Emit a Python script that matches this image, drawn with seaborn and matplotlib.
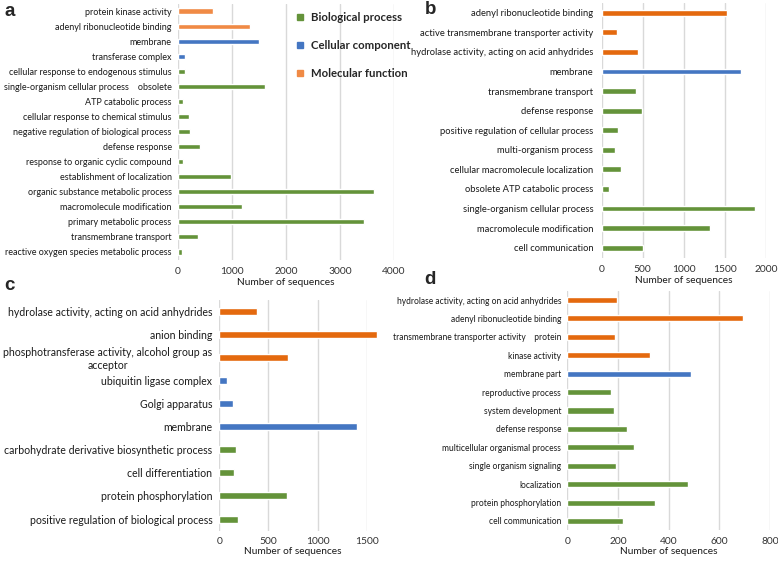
import pandas as pd
import matplotlib
matplotlib.use("Agg")
import matplotlib.pyplot as plt
from matplotlib.lines import Line2D
import seaborn as sns

# ---- data ----
a_terms = ["protein kinase activity", "adenyl ribonucleotide binding", "membrane",
           "transferase complex", "cellular response to endogenous stimulus",
           "single-organism cellular process    obsolete", "ATP catabolic process",
           "cellular response to chemical stimulus",
           "negative regulation of biological process", "defense response",
           "response to organic cyclic compound", "establishment of localization",
           "organic substance metabolic process", "macromolecule modification",
           "primary metabolic process", "transmembrane transport",
           "reactive oxygen species metabolic process"]
a_values = [640, 1330, 1500, 130, 130, 1610, 90, 200, 230, 410, 100, 990,
            3630, 1185, 3440, 365, 75]
a_groups = ["MF", "MF", "CC", "CC", "BP", "BP", "BP", "BP", "BP", "BP", "BP",
            "BP", "BP", "BP", "BP", "BP", "BP"]

b_terms = ["adenyl ribonucleotide binding", "active transmembrane transporter activity",
           "hydrolase activity, acting on acid anhydrides", "membrane",
           "transmembrane transport", "defense response",
           "positive regulation of cellular process", "multi-organism process",
           "cellular macromolecule localization", "obsolete ATP catabolic process",
           "single-organism cellular process", "macromolecule modification",
           "cell communication"]
b_values = [1530, 185, 440, 1695, 425, 495, 195, 165, 235, 95, 1865, 1320, 510]
b_groups = ["MF", "MF", "MF", "CC", "BP", "BP", "BP", "BP", "BP", "BP", "BP",
            "BP", "BP"]

c_terms = ["hydrolase activity, acting on acid anhydrides", "anion binding",
           "phosphotransferase activity, alcohol group as\nacceptor",
           "ubiquitin ligase complex", "Golgi apparatus", "membrane",
           "carbohydrate derivative biosynthetic process", "cell differentiation",
           "protein phosphorylation", "positive regulation of biological process"]
c_values = [380, 1605, 700, 75, 140, 1400, 175, 150, 685, 195]
c_groups = ["MF", "MF", "MF", "CC", "CC", "CC", "BP", "BP", "BP", "BP"]

d_terms = ["hydrolase activity, acting on acid anhydrides",
           "adenyl ribonucleotide binding",
           "transmembrane transporter activity    protein", "kinase activity",
           "membrane part", "reproductive process", "system development",
           "defense response", "multicellular organismal process",
           "single organism signaling", "localization", "protein phosphorylation",
           "cell communication"]
d_values = [197, 695, 188, 326, 487, 171, 183, 234, 263, 191, 476, 347, 218]
d_groups = ["MF", "MF", "MF", "MF", "CC", "BP", "BP", "BP", "BP", "BP", "BP",
            "BP", "BP"]

group_names = {"BP": "Biological process", "CC": "Cellular component",
               "MF": "Molecular function"}

green = "#64933a"
blue = "#4476c2"
orange_a = "#f08a45"
orange = "#e4690e"

sns.set_style("white")
plt.rcParams["font.family"] = ["Lato", "DejaVu Sans"]

W, H = 778, 561
fig = plt.figure(figsize=(W / 100, H / 100), dpi=100)


def px_axes(l, t, r, b):
    return fig.add_axes([l / W, 1 - b / H, (r - l) / W, (b - t) / H])


def panel(ax, terms, values, groups, xmax, step, pal, lab_size, tick_pad,
          ypad, xlab_pad, width):
    df = pd.DataFrame({"term": terms, "value": values, "group": groups})
    sns.barplot(data=df, x="value", y="term", hue="group", palette=pal,
                dodge=False, width=width, legend=False, ax=ax, saturation=1,
                order=terms)
    ax.set_xlim(0, xmax)
    ax.set_xticks(range(0, xmax + 1, step))
    for p in ax.patches:
        p.set_clip_on(False)
    ax.grid(axis="x", color="#d9d9d9", linewidth=1)
    ax.set_axisbelow(True)
    sns.despine(ax=ax, left=True, bottom=True)
    ax.tick_params(axis="both", length=0)
    ax.tick_params(axis="y", labelsize=lab_size, pad=ypad, colors="#1a1a1a")
    ax.tick_params(axis="x", labelsize=7.4, pad=tick_pad, colors="#333333")
    ax.set_ylabel("")
    ax.set_xlabel("Number of sequences", fontsize=7.3, color="#1a1a1a",
                  labelpad=xlab_pad)


pal_a = {"BP": green, "CC": blue, "MF": orange_a}
pal = {"BP": green, "CC": blue, "MF": orange}

ax_a = px_axes(178, 3.5, 394, 259.5)
panel(ax_a, a_terms, a_values, a_groups, 4000, 1000, pal_a, 6.5, 5.5, 4.5, 1, 0.34)

ax_b = px_axes(601.5, 2.9, 766, 257.5)
panel(ax_b, b_terms, b_values, b_groups, 2000, 500, pal, 6.75, 5.5, 6, 1.5, 0.3)

ax_c = px_axes(219.3, 299.5, 366.7, 530.6)
panel(ax_c, c_terms, c_values, c_groups, 1500, 500, pal, 7.6, 4.6, 5, 0.5, 0.3)
for t in ax_c.get_yticklabels():
    t.set_multialignment("center")

ax_d = px_axes(567.3, 290.8, 770, 530.2)
panel(ax_d, d_terms, d_values, d_groups, 800, 200, pal, 6.15, 4.9, 4.5, 0.8, 0.33)

# legend in panel a
handles = [Line2D([], [], marker="s", linestyle="", markersize=4.5,
                  color=pal_a[k], label=group_names[k]) for k in ["BP", "CC", "MF"]]
leg = ax_a.legend(handles=handles, loc="upper left", bbox_to_anchor=(0.5, 0.995),
                  frameon=False, prop={"family": "Lato", "weight": "bold", "size": 8.2},
                  labelspacing=1.5, handletextpad=0.4, handlelength=1.2,
                  borderaxespad=0.2)

# panel letters
for letter, x, y in [("a", 10, 11), ("b", 431, 10), ("c", 9, 286), ("d", 430, 280)]:
    fig.text(x / W, 1 - y / H, letter, fontsize=13.5, fontweight="bold",
             family="Liberation Sans", ha="center", va="center")

fig.savefig("out.png", dpi=100)
